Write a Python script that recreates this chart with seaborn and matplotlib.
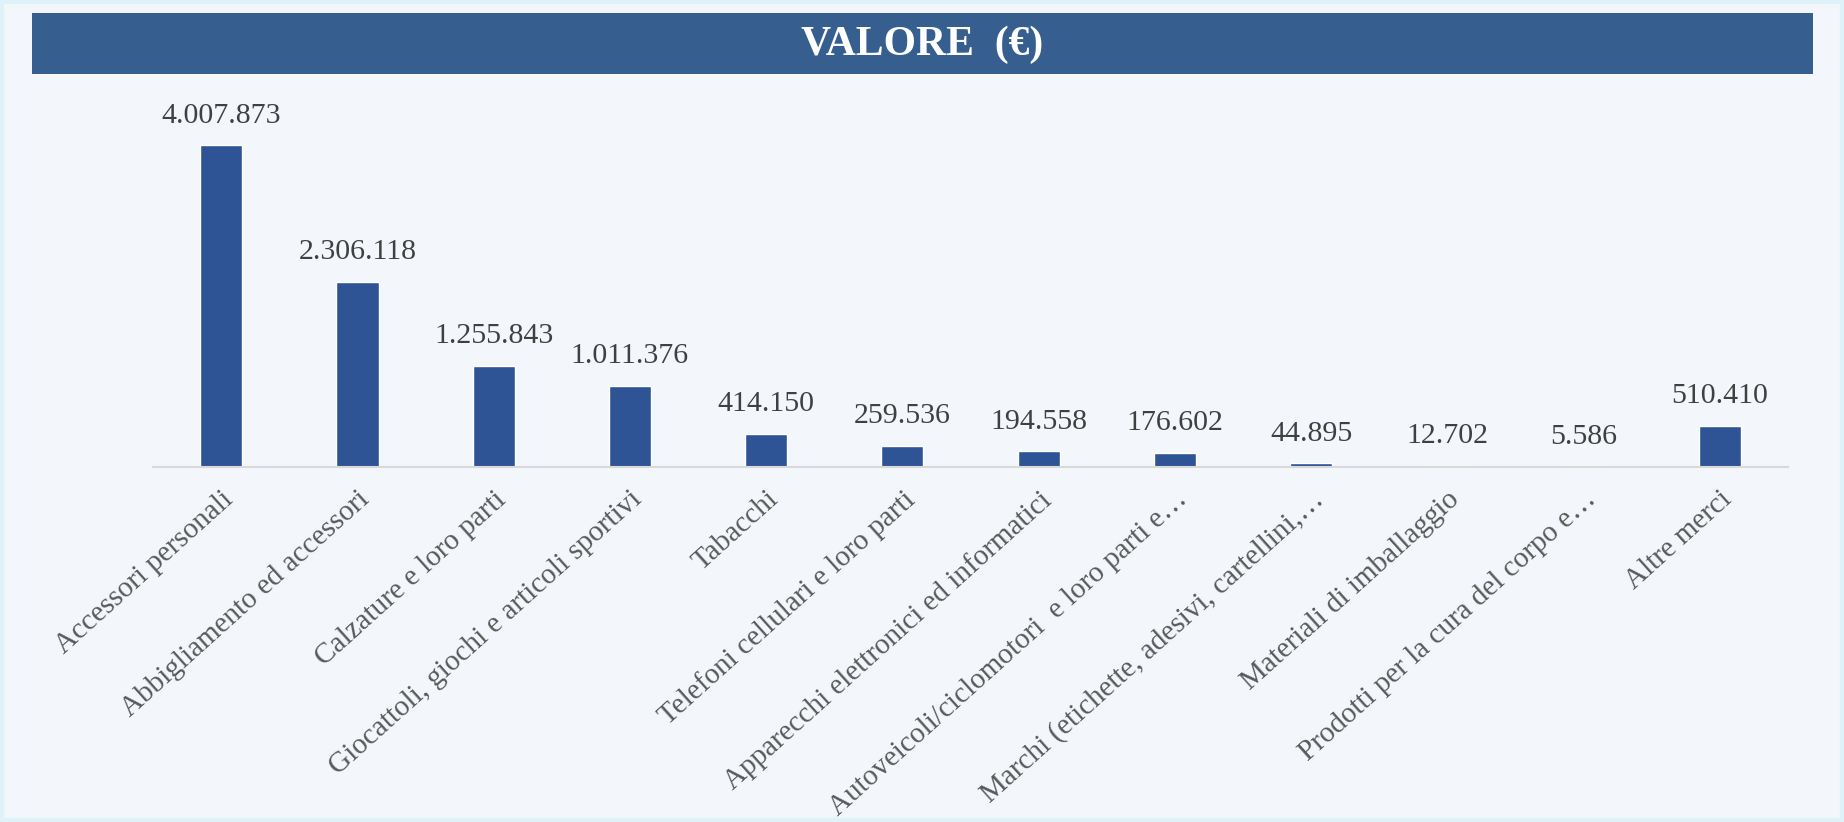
"""Bar chart: VALORE (€) per categoria merceologica"""

import seaborn as sns
import matplotlib.pyplot as plt
from matplotlib.patches import Rectangle

categories = [
    "Accessori personali",
    "Abbigliamento ed accessori",
    "Calzature e loro parti",
    "Giocattoli, giochi e articoli sportivi",
    "Tabacchi",
    "Telefoni cellulari e loro parti",
    "Apparecchi elettronici ed informatici",
    "Autoveicoli/ciclomotori  e loro parti e…",
    "Marchi (etichette, adesivi, cartellini,…",
    "Materiali di imballaggio",
    "Prodotti per la cura del corpo e…",
    "Altre merci",
]
values = [4007873, 2306118, 1255843, 1011376, 414150, 259536,
          194558, 176602, 44895, 12702, 5586, 510410]
title = "VALORE  (€)"

BG = "#f3f7fb"
BAR = "#2e5496"
HEAD = "#365f8f"

sns.set_theme(style="white")
plt.rcParams["font.family"] = ["Liberation Serif", "DejaVu Serif"]

fig = plt.figure(figsize=(18.44, 8.22), dpi=100, facecolor=BG)
# thin light border round the panel
fig.patches.append(Rectangle((0, 0), 1, 1, transform=fig.transFigure,
                             fill=False, edgecolor="#dff2fa", lw=6))
# title band
fig.patches.append(Rectangle((0.0174, 0.910), 0.9658, 0.074, transform=fig.transFigure,
                             facecolor=HEAD, edgecolor="none"))
fig.text(0.5, 0.946, title, ha="center", va="center", color="white",
         fontsize=30, fontweight="bold")

ax = fig.add_axes([0.083, 0.432, 0.8866, 0.446])
ax.set_facecolor(BG)
sns.barplot(x=categories, y=values, color=BAR, width=0.31, saturation=1, ax=ax)

labels = [f"{v:,}".replace(",", ".") for v in values]
ax.bar_label(ax.containers[0], labels=labels, padding=12, fontsize=21.5, color="#404040")

ax.set_ylim(0, 4.57e6)
ax.set_xlim(-0.5, len(categories) - 0.5)
ax.set_yticks([])
ax.set_ylabel("")
for s in ["top", "left", "right"]:
    ax.spines[s].set_visible(False)
ax.spines["bottom"].set_color("#d9d9d9")
ax.spines["bottom"].set_linewidth(1.5)
ax.tick_params(axis="x", length=0, pad=14)
plt.setp(ax.get_xticklabels(), rotation=42, ha="right", rotation_mode="anchor",
         fontsize=21, color="#595959")

plt.savefig("out.png", dpi=100, facecolor=BG)
plt.close()
